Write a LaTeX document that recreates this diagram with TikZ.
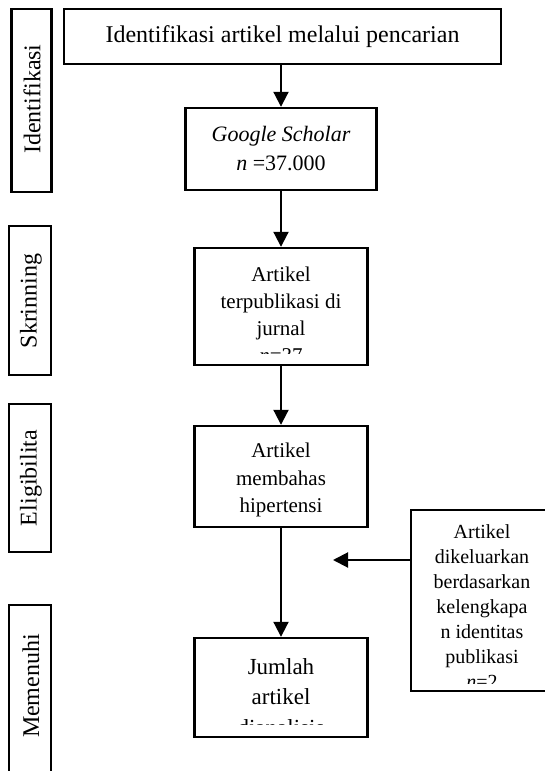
\documentclass[tikz,border=0pt]{standalone}
\usepackage{fontspec}
\setmainfont{Liberation Serif}
\usetikzlibrary{arrows.meta}

\tikzset{
  box/.style={draw, line width=1.2pt, inner sep=0pt},
  boxtext/.style={align=center, inner sep=0pt},
  sidetext/.style={rotate=90, inner sep=0pt, font=\fontsize{12}{14}\selectfont},
  arr/.style={line width=1pt, -{Triangle[length=7.5pt,width=7.5pt]}},
}

\begin{document}
\begin{tikzpicture}[x=0.5pt, y=-0.5pt]
  \useasboundingbox (0,0) rectangle (545,771);

  % tahapan di sisi kiri
  \node[box, minimum width=20pt, minimum height=91.5pt] (idbox) at (31.5,100.5) {};
  \node[sidetext] (idtxt) at (32,99) {Identifikasi};
  \node[box, minimum width=21pt, minimum height=74.5pt] (skbox) at (30,300.5) {};
  \node[sidetext] (sktxt) at (31,301) {Skrinning};
  \node[box, minimum width=21pt, minimum height=74pt] (elbox) at (30,478) {};
  \node[sidetext] (eltxt) at (31,478) {Eligibilita};
  \node[box, minimum width=21pt, minimum height=107.5pt] (mmbox) at (30,712.5) {};
  \node[sidetext] (mmtxt) at (31,686) {Memenuhi};

  % alur utama
  \node[box, minimum width=218.5pt, minimum height=27.5pt,
        font=\fontsize{12}{14}\selectfont] (search) at (282.5,36.5)
        {Identifikasi artikel melalui pencarian};
  \node[box, minimum width=95.5pt, minimum height=41pt, align=center,
        font=\fontsize{11}{14.5}\selectfont] (google) at (281,149)
        {\textit{Google Scholar}\\\textit{n} =37.000};

  \node[box, minimum width=86.5pt, minimum height=58.5pt] (jurnal) at (281,306.5) {};
  \begin{scope}
    \clip (jurnal.north west) rectangle (367,353);
    \node[boxtext, font=\fontsize{10.5}{13.5}\selectfont] (jurnaltxt) at (281,315)
      {Artikel\\terpublikasi di\\jurnal\\\textit{n}=37};
  \end{scope}

  \node[box, minimum width=86.5pt, minimum height=50.5pt] (hiper) at (281,476.5) {};
  \begin{scope}
    \clip (hiper.north west) rectangle (367,516);
    \node[boxtext, font=\fontsize{10.5}{13.75}\selectfont] (hipertxt) at (281,480)
      {Artikel\\membahas\\hipertensi};
  \end{scope}

  \node[box, minimum width=86.5pt, minimum height=49.5pt] (analisis) at (281,687.5) {};
  \begin{scope}
    \clip (analisis.north west) rectangle (367,724);
    \node[boxtext, font=\fontsize{11.5}{15.25}\selectfont] (analisistxt) at (281,697)
      {Jumlah\\artikel\\dianalisis};
  \end{scope}

  \node[box, minimum width=71pt, minimum height=90.5pt] (keluar) at (482,600.5) {};
  \begin{scope}
    \clip (keluar.north west) rectangle (553,683);
    \node[boxtext, font=\fontsize{10}{12.5}\selectfont] (keluartxt) at (482,607)
      {Artikel\\dikeluarkan\\berdasarkan\\kelengkapa\\n identitas\\publikasi\\\textit{n}=2};
  \end{scope}

  \draw[arr] (google.north |- search.south) -- (google.north);
  \draw[arr] (google.south) -- (jurnal.north);
  \draw[arr] (jurnal.south) -- (hiper.north);
  \draw[arr] (hiper.south) -- (analisis.north);
  \coordinate (tip) at (333,560);
  \draw[arr] (keluar.west |- tip) -- (tip);
\end{tikzpicture}
\end{document}
